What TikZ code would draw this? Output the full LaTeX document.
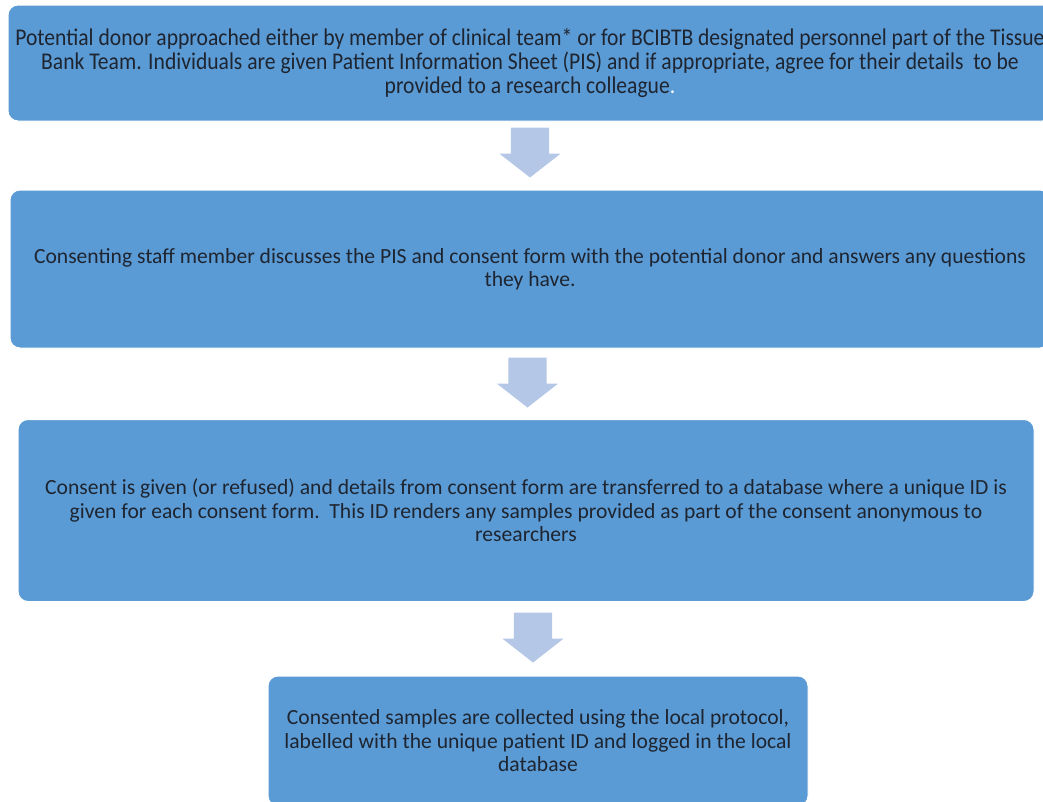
\documentclass[tikz,border=0pt]{standalone}
\usepackage{fontspec}
\setmainfont{Carlito}
\newfontfamily\narrowfont[FakeStretch=0.9]{Carlito}
\usetikzlibrary{shapes.arrows}
\definecolor{boxblue}{HTML}{5B9BD5}
\definecolor{arrowblue}{HTML}{B4C7E7}
\definecolor{textdark}{HTML}{1E2530}

\tikzset{
  stepbox/.style={draw=white, line width=1pt, fill=boxblue, rounded corners=10pt,
    text=textdark, align=center, inner sep=0pt, font=\fontsize{21.6}{23.5}\selectfont},
  downarrow/.style={single arrow, fill=arrowblue, draw=none, rotate=-90,
    inner sep=0pt, text width=0pt, text height=19pt, text depth=19pt,
    minimum height=50pt, single arrow head extend=11.5pt,
    single arrow tip angle=104}
}

\begin{document}
\begin{tikzpicture}[x=1pt,y=-1pt]
\useasboundingbox (0,0) rectangle (1043,801);
\clip (0,0) rectangle (1043,801);

% steps
\node[stepbox, minimum width=1044pt, minimum height=116pt,
  font=\narrowfont\fontsize{24}{24}\selectfont] (consult) at (530,63)
  {Potential donor approached either by member of clinical team* or for BCIBTB designated personnel part of the Tissue\\
   Bank Team. Individuals are given Patient Information Sheet (PIS) and if appropriate, agree for their details\ \ to be\\
   provided to a research colleague{\color{white}.}};
\node[stepbox, minimum width=1040pt, minimum height=158pt] (discuss) at (530,269)
  {Consenting staff member discusses the PIS and consent form with the potential donor and answers any questions\\
   they have.};
\node[stepbox, minimum width=1016pt, minimum height=182pt] (record) at (526,510.5)
  {Consent is given (or refused) and details from consent form are transferred to a database where a unique ID is\\
   given for each consent form.\ \ This ID renders any samples provided as part of the consent anonymous to\\
   researchers};
\node[stepbox, minimum width=540pt, minimum height=130pt] (collect) at (538,741)
  {Consented samples are collected using the local protocol,\\
   labelled with the unique patient ID and logged in the local\\
   database};

% block arrows between the steps
\node[downarrow] (a1) at (530,145) {};
\node[downarrow] (a2) at (527.5,375) {};
\node[downarrow] (a3) at (533,630) {};
\end{tikzpicture}
\end{document}
